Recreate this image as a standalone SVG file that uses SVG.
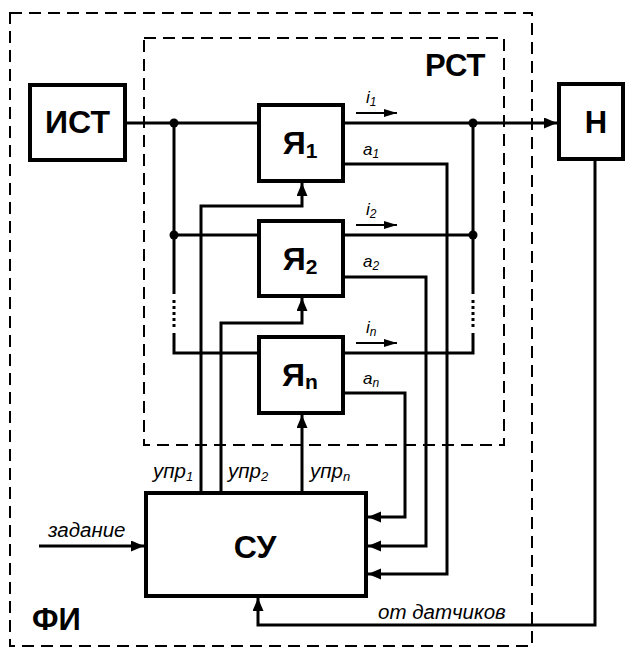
<svg xmlns="http://www.w3.org/2000/svg" width="627" height="648" viewBox="0 0 627 648">
<style>
.box{fill:#fff;stroke:#000;stroke-width:4}
.ln{fill:none;stroke:#000;stroke-width:3}
.thin{fill:none;stroke:#000;stroke-width:2}
.dash{fill:none;stroke:#000;stroke-width:2;stroke-dasharray:12 7}
.dot{fill:none;stroke:#000;stroke-width:3;stroke-dasharray:3 3}
.big{font-family:"Liberation Sans",Arial,sans-serif;font-weight:bold;font-size:32px;fill:#000}
.lbl{font-family:"Liberation Sans",Arial,sans-serif;font-style:italic;font-size:20.5px;fill:#000}
.sm{font-family:"Liberation Sans",Arial,sans-serif;font-style:italic;font-size:17px;fill:#000}
</style>
<defs>
<marker id="ar" markerUnits="userSpaceOnUse" markerWidth="14" markerHeight="12" refX="13" refY="5.5" orient="auto">
<path d="M0,0 L13,5.5 L0,11 z" fill="#000"/>
</marker>
<marker id="ars" markerUnits="userSpaceOnUse" markerWidth="14" markerHeight="10" refX="13" refY="4" orient="auto">
<path d="M0,0 L13,4 L0,8 z" fill="#000"/>
</marker>
</defs>
<rect width="627" height="648" fill="#fff"/>

<g id="frame-fi">
<rect class="dash" x="10" y="13" width="522" height="633"/>
<text class="big" x="32" y="630" style="font-size:31px">ФИ</text>
</g>
<g id="frame-rst">
<rect class="dash" x="144" y="38" width="360" height="407"/>
<text class="big" x="425" y="76" style="font-size:31px">РСТ</text>
</g>

<g id="connectors">
<path class="ln" d="M127,123 H257"/>
<path class="ln" d="M345,123 H557" marker-end="url(#ar)"/>
<path class="ln" d="M174,123 V294"/>
<path class="dot" d="M174,300 V330"/>
<path class="ln" d="M174,333 V353 H257"/>
<path class="ln" d="M174,235 H257"/>
<path class="ln" d="M473,123 V294"/>
<path class="dot" d="M473,300 V330"/>
<path class="ln" d="M473,333 V353 H345"/>
<path class="ln" d="M345,235 H473"/>
<circle cx="174" cy="123" r="4.5"/>
<circle cx="174" cy="235" r="4.5"/>
<circle cx="473" cy="123" r="4.5"/>
<circle cx="473" cy="235" r="4.5"/>
<path class="thin" d="M356,113 H397" marker-end="url(#ars)"/>
<path class="thin" d="M356,225 H397" marker-end="url(#ars)"/>
<path class="thin" d="M356,343 H397" marker-end="url(#ars)"/>
<path class="ln" d="M345,164 H447 V574 H368" marker-end="url(#ar)"/>
<path class="ln" d="M345,277 H426 V546 H368" marker-end="url(#ar)"/>
<path class="ln" d="M345,393 H405 V517 H368" marker-end="url(#ar)"/>
<path class="ln" d="M201,491 V206 H302 V183" marker-end="url(#ar)"/>
<path class="ln" d="M221,491 V323 H302 V298" marker-end="url(#ar)"/>
<path class="ln" d="M302,491 V415" marker-end="url(#ar)"/>
<path class="ln" d="M39,546 H144" marker-end="url(#ar)"/>
<path class="ln" d="M595,161 V625 H258 V598" marker-end="url(#ar)"/>
<text class="sm" x="366" y="103">i<tspan dy="3" style="font-size:12px">1</tspan></text>
<text class="sm" x="366" y="215">i<tspan dy="3" style="font-size:12px">2</tspan></text>
<text class="sm" x="366" y="333">i<tspan dy="3" style="font-size:12px">n</tspan></text>
<text class="sm" x="363" y="155">a<tspan dy="3" style="font-size:12px">1</tspan></text>
<text class="sm" x="363" y="267">a<tspan dy="3" style="font-size:12px">2</tspan></text>
<text class="sm" x="363" y="384">a<tspan dy="3" style="font-size:12px">n</tspan></text>
<text class="lbl" x="153" y="478">упр<tspan dy="3" style="font-size:13px">1</tspan></text>
<text class="lbl" x="228" y="478">упр<tspan dy="3" style="font-size:13px">2</tspan></text>
<text class="lbl" x="310" y="478">упр<tspan dy="3" style="font-size:13px">n</tspan></text>
<text class="lbl" x="48" y="537">задание</text>
<text class="lbl" x="378" y="619">от датчиков</text>
</g>

<g id="node-ist">
<rect class="box" x="30" y="85" width="95" height="75"/>
<text class="big" x="77.5" y="133" text-anchor="middle">ИСТ</text>
</g>
<g id="node-ya1">
<rect class="box" x="259" y="105" width="84" height="76"/>
<text class="big" x="300" y="154" text-anchor="middle">Я<tspan dy="4" style="font-size:21px">1</tspan></text>
</g>
<g id="node-ya2">
<rect class="box" x="259" y="221" width="84" height="75"/>
<text class="big" x="300" y="270" text-anchor="middle">Я<tspan dy="4" style="font-size:21px">2</tspan></text>
</g>
<g id="node-yan">
<rect class="box" x="259" y="337" width="84" height="76"/>
<text class="big" x="300" y="386" text-anchor="middle">Я<tspan dy="3" style="font-size:21px">n</tspan></text>
</g>
<g id="node-n">
<rect class="box" x="559" y="84" width="64" height="75"/>
<text class="big" x="596" y="133" text-anchor="middle" style="font-size:31px">Н</text>
</g>
<g id="node-su">
<rect class="box" x="146" y="493" width="220" height="103"/>
<text class="big" x="255" y="558" text-anchor="middle">СУ</text>
</g>
</svg>
